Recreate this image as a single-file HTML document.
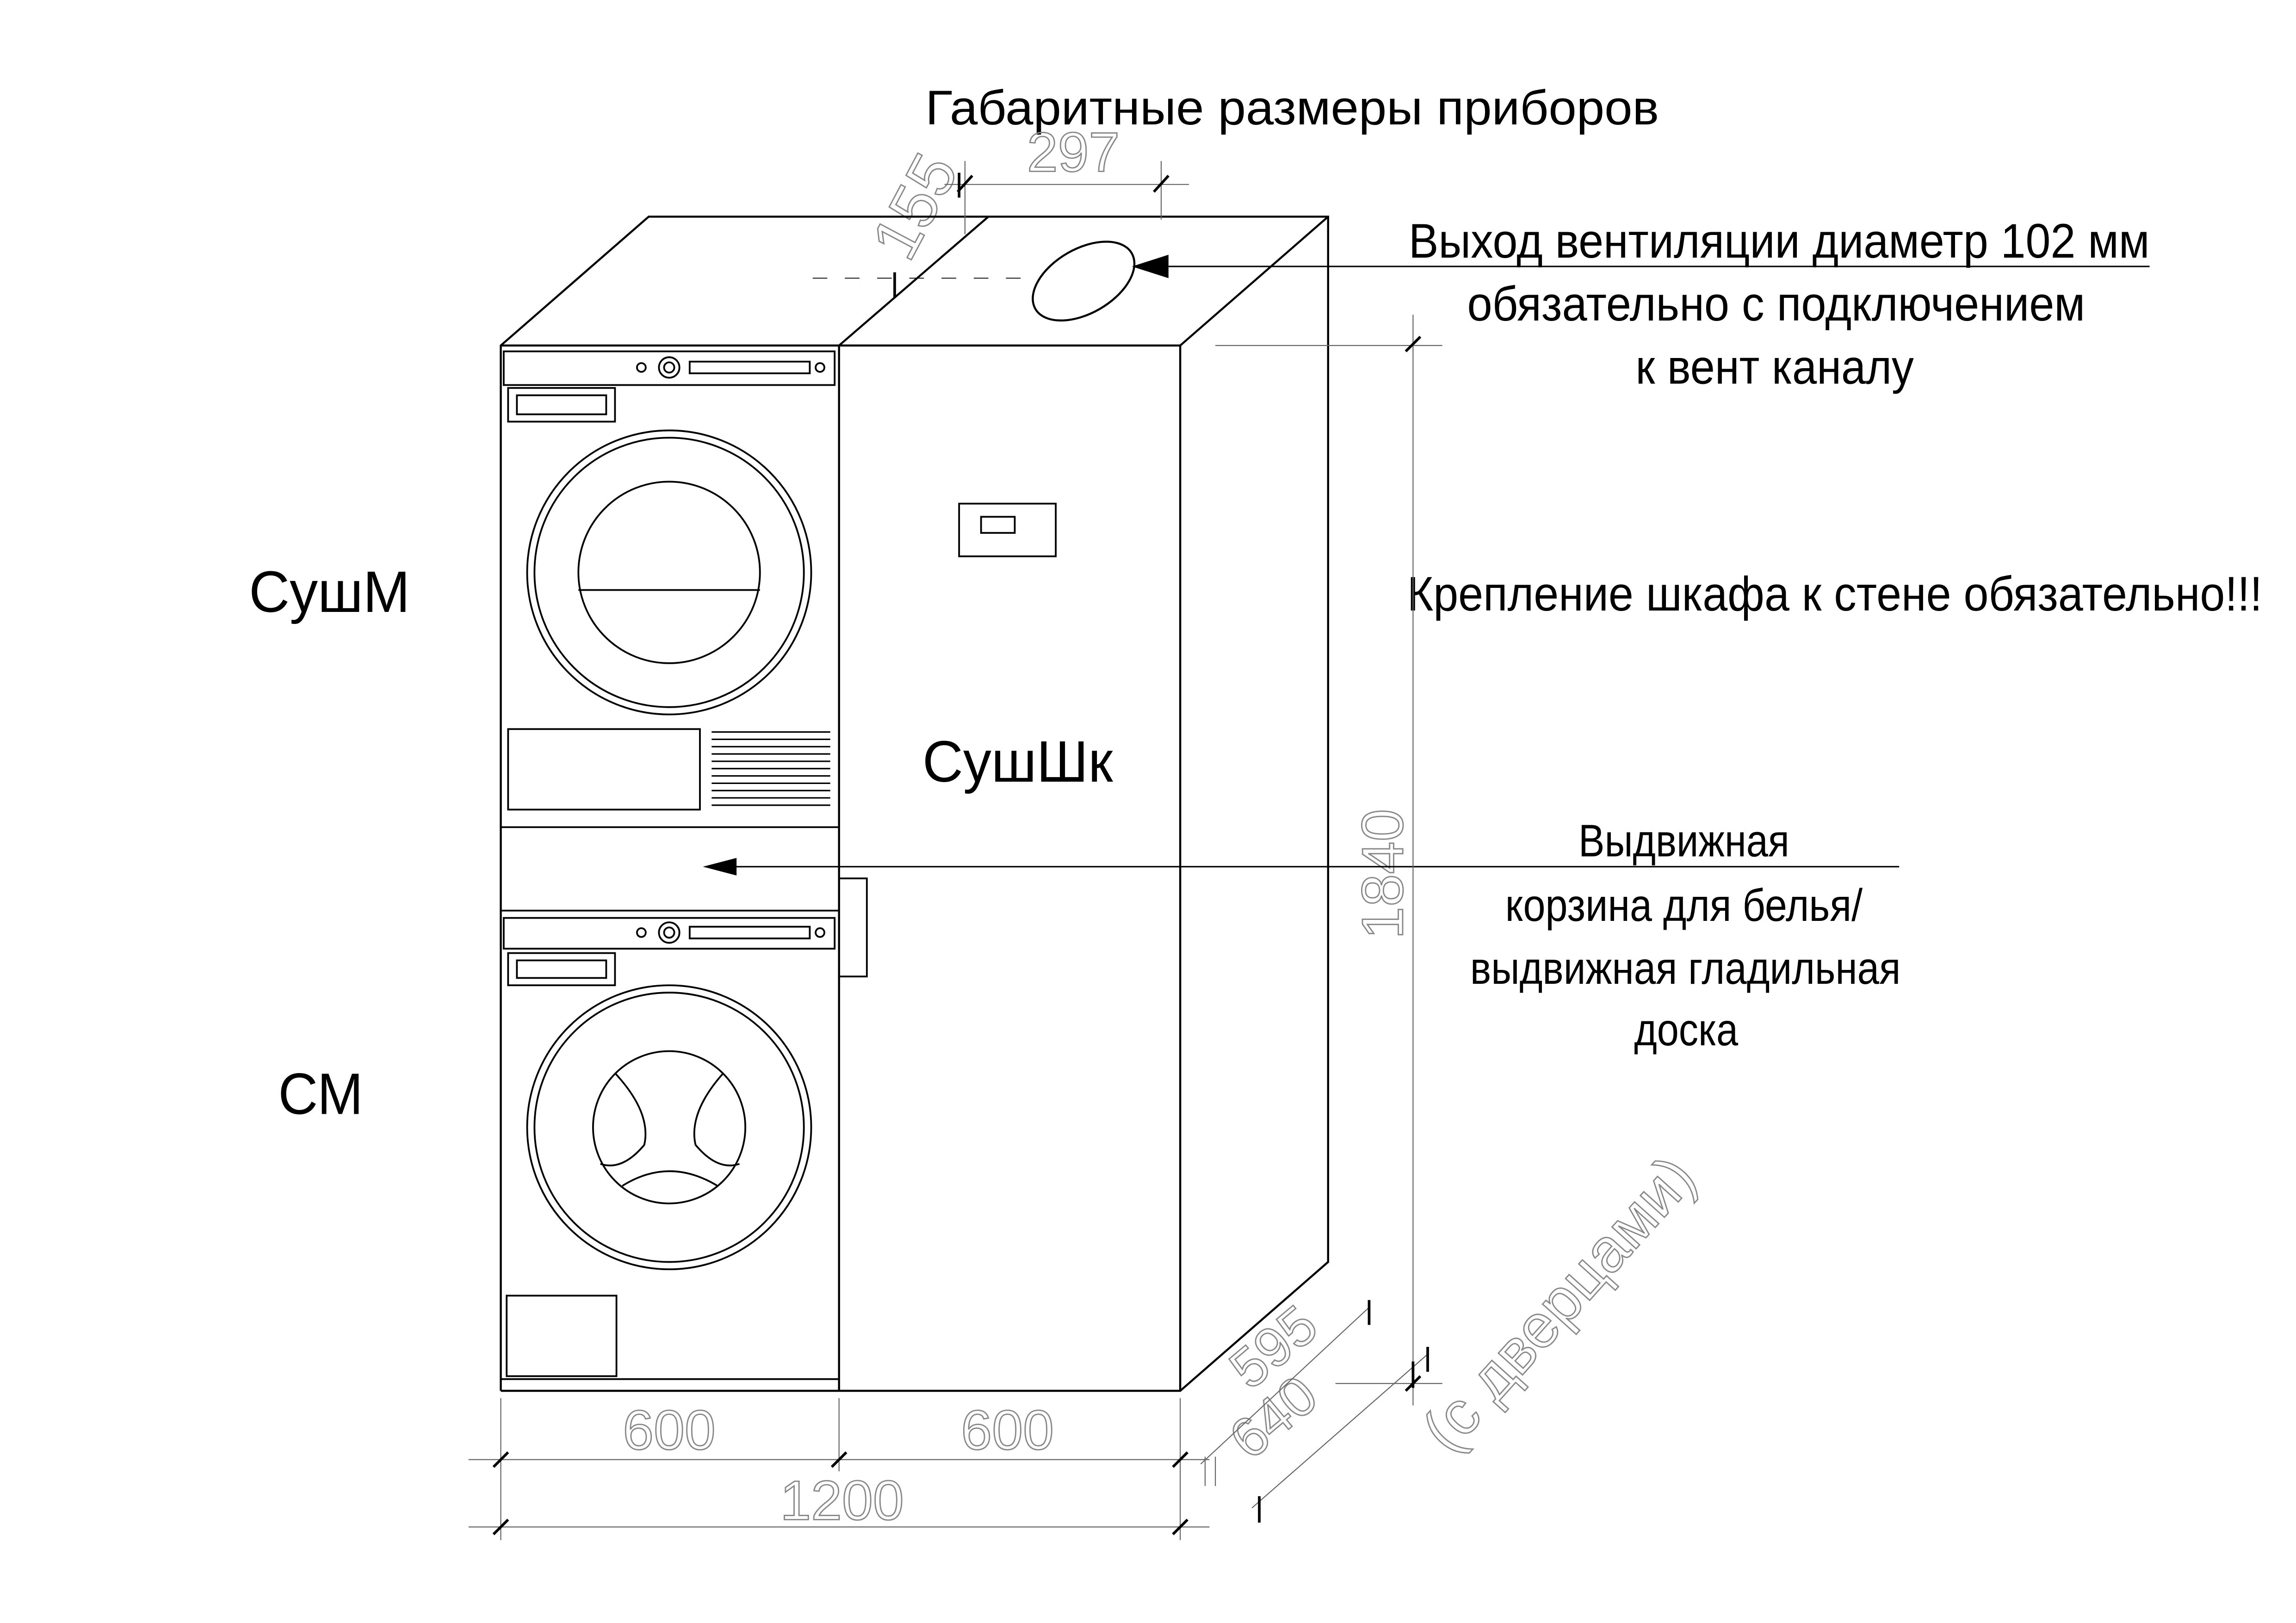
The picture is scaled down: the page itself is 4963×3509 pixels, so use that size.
<!DOCTYPE html>
<html><head><meta charset="utf-8"><style>
html,body{margin:0;padding:0;background:#fff;}
svg{display:block;}
</style></head><body>
<svg xmlns="http://www.w3.org/2000/svg" width="4963" height="3509" viewBox="0 0 1568 1108.6" preserveAspectRatio="none">
<rect width="1568" height="1108.6" fill="#fff"/>
<g font-family="Liberation Sans, sans-serif" fill="#000" lengthAdjust="spacingAndGlyphs">
<text x="632" y="85" font-size="33" textLength="501" lengthAdjust="spacingAndGlyphs">Габаритные размеры приборов</text>
<text x="962" y="176" font-size="33" textLength="506" lengthAdjust="spacingAndGlyphs">Выход вентиляции диаметр 102 мм</text>
<text x="1002" y="219" font-size="33" textLength="422" lengthAdjust="spacingAndGlyphs">обязательно с подключением</text>
<text x="1117" y="262" font-size="33" textLength="190" lengthAdjust="spacingAndGlyphs">к вент каналу</text>
<text x="961" y="417" font-size="33" textLength="584" lengthAdjust="spacingAndGlyphs">Крепление шкафа к стене обязательно!!!</text>
<text x="1078" y="585" font-size="31" textLength="144" lengthAdjust="spacingAndGlyphs">Выдвижная</text>
<text x="1028" y="629" font-size="31" textLength="244" lengthAdjust="spacingAndGlyphs">корзина для белья/</text>
<text x="1004" y="672" font-size="31" textLength="294" lengthAdjust="spacingAndGlyphs">выдвижная гладильная</text>
<text x="1116" y="714" font-size="31" textLength="71" lengthAdjust="spacingAndGlyphs">доска</text>
<text x="170" y="418" font-size="40" textLength="110" lengthAdjust="spacingAndGlyphs">СушМ</text>
<text x="190" y="761" font-size="40" textLength="58" lengthAdjust="spacingAndGlyphs">СМ</text>
<text x="630" y="534" font-size="40" textLength="130" lengthAdjust="spacingAndGlyphs">СушШк</text>
</g>
<!-- dimension texts -->
<g font-family="Liberation Sans, sans-serif" fill="none" stroke="#888" stroke-width="0.9" font-weight="300">
<text x="457" y="990" font-size="38" text-anchor="middle">600</text>
<text x="688" y="990" font-size="38" text-anchor="middle">600</text>
<text x="575" y="1038" font-size="38" text-anchor="middle">1200</text>
<text x="733" y="117" font-size="38" text-anchor="middle">297</text>
<text transform="translate(958,597) rotate(-90)" font-size="40" text-anchor="middle">1840</text>
<text transform="translate(638,148) rotate(-62)" font-size="44" text-anchor="middle">155</text>
<text transform="translate(878,930) rotate(-40)" font-size="38" text-anchor="middle">595</text>
<text transform="translate(878,978) rotate(-40)" font-size="38" text-anchor="middle">640</text>
<text transform="translate(1075,900) rotate(-48)" font-size="42" text-anchor="middle">(с дверцами)</text>
</g>
<g fill="none" stroke="#000" stroke-width="1.4">
<polyline points="342,950 342,236 443,148 907,148 907,862 806,950 342,950"/>
<line x1="342" y1="236" x2="806" y2="236"/>
<line x1="806" y1="236" x2="907" y2="148"/>
<line x1="806" y1="236" x2="806" y2="950"/>
<line x1="573" y1="236" x2="675" y2="148"/>
<line x1="573" y1="236" x2="573" y2="950"/>
<ellipse cx="740" cy="192" rx="38" ry="22" transform="rotate(-30 740 192)"/>
</g>
<polygon points="773,182 798,174 798,190" fill="#000"/>
<line x1="798" y1="182" x2="1468" y2="182" stroke="#000" stroke-width="1"/>
<line x1="555" y1="190" x2="705" y2="190" stroke="#000" stroke-width="0.6" stroke-dasharray="10,12"/>
<g fill="none" stroke="#000" stroke-width="1.2">
<rect x="344" y="240" width="226" height="23"/>
<rect x="471" y="247" width="82" height="8"/>
<circle cx="457" cy="251" r="7"/><circle cx="457" cy="251" r="3.5"/>
<circle cx="438" cy="251" r="3"/><circle cx="560" cy="251" r="3"/>
<rect x="347" y="265" width="73" height="23"/>
<rect x="353" y="270" width="61" height="13"/>
<circle cx="457" cy="391" r="97"/><circle cx="457" cy="391" r="92"/>
<circle cx="457" cy="391" r="62"/>
<line x1="395" y1="403" x2="519" y2="403"/>
<rect x="347" y="498" width="131" height="55"/>
<line x1="342" y1="565" x2="573" y2="565"/>
<line x1="342" y1="622" x2="573" y2="622"/>
<rect x="344" y="627" width="226" height="21"/>
<rect x="471" y="633" width="82" height="8"/>
<circle cx="457" cy="637" r="7"/><circle cx="457" cy="637" r="3.5"/>
<circle cx="438" cy="637" r="3"/><circle cx="560" cy="637" r="3"/>
<rect x="347" y="651" width="73" height="22"/>
<rect x="353" y="656" width="61" height="12"/>
<circle cx="457" cy="770" r="97"/><circle cx="457" cy="770" r="92"/>
<circle cx="457" cy="770" r="52"/>
<path d="M420,733 Q445,760 440,782 Q425,800 410,795"/>
<path d="M494,733 Q470,760 475,782 Q490,800 505,795"/>
<path d="M425,810 Q457,790 490,810"/>
<rect x="346" y="885" width="75" height="55"/>
<line x1="342" y1="942" x2="573" y2="942"/>
<rect x="655" y="344" width="66" height="36"/>
<rect x="670" y="353" width="23" height="11"/>
<rect x="573" y="600" width="19" height="67"/>
</g>
<g stroke="#000" stroke-width="1">
<line x1="486" y1="500" x2="567" y2="500"/><line x1="486" y1="505" x2="567" y2="505"/><line x1="486" y1="510" x2="567" y2="510"/><line x1="486" y1="515" x2="567" y2="515"/><line x1="486" y1="520" x2="567" y2="520"/><line x1="486" y1="525" x2="567" y2="525"/><line x1="486" y1="530" x2="567" y2="530"/><line x1="486" y1="535" x2="567" y2="535"/><line x1="486" y1="540" x2="567" y2="540"/><line x1="486" y1="545" x2="567" y2="545"/><line x1="486" y1="550" x2="567" y2="550"/>
<line x1="498" y1="592" x2="1297" y2="592"/>
</g>
<polygon points="480,592 503,586 503,598" fill="#000"/>
<g stroke="#666" stroke-width="0.7" fill="none">
<line x1="342" y1="955" x2="342" y2="1052"/>
<line x1="573" y1="955" x2="573" y2="1005"/>
<line x1="806" y1="955" x2="806" y2="1052"/>
<line x1="320" y1="997" x2="826" y2="997"/>
<line x1="320" y1="1043" x2="826" y2="1043"/>
<line x1="830" y1="236" x2="985" y2="236"/>
<line x1="912" y1="945" x2="985" y2="945"/>
<line x1="965" y1="215" x2="965" y2="960"/>
<line x1="645" y1="126" x2="812" y2="126"/>
<line x1="659" y1="110" x2="659" y2="160"/>
<line x1="793" y1="110" x2="793" y2="150"/>
<line x1="820" y1="1000" x2="935" y2="893"/>
<line x1="855" y1="1030" x2="975" y2="925"/>
<line x1="830" y1="995" x2="830" y2="1015"/>
<line x1="823" y1="995" x2="823" y2="1015"/>
</g>
<g stroke="#000" stroke-width="1.8">
<line x1="337" y1="1002" x2="347" y2="992"/><line x1="568" y1="1002" x2="578" y2="992"/><line x1="801" y1="1002" x2="811" y2="992"/>
<line x1="337" y1="1048" x2="347" y2="1038"/><line x1="801" y1="1048" x2="811" y2="1038"/>
<line x1="960" y1="240" x2="970" y2="230"/><line x1="960" y1="950" x2="970" y2="940"/>
<line x1="654" y1="131" x2="664" y2="120"/><line x1="788" y1="131" x2="798" y2="120"/>
<line x1="935" y1="888" x2="935" y2="905"/><line x1="975" y1="920" x2="975" y2="937"/>
<line x1="860" y1="1022" x2="860" y2="1040"/><line x1="965" y1="930" x2="965" y2="948"/>
<line x1="655" y1="118" x2="655" y2="135"/><line x1="611" y1="186" x2="611" y2="203"/>
</g>
</svg>
</body></html>
